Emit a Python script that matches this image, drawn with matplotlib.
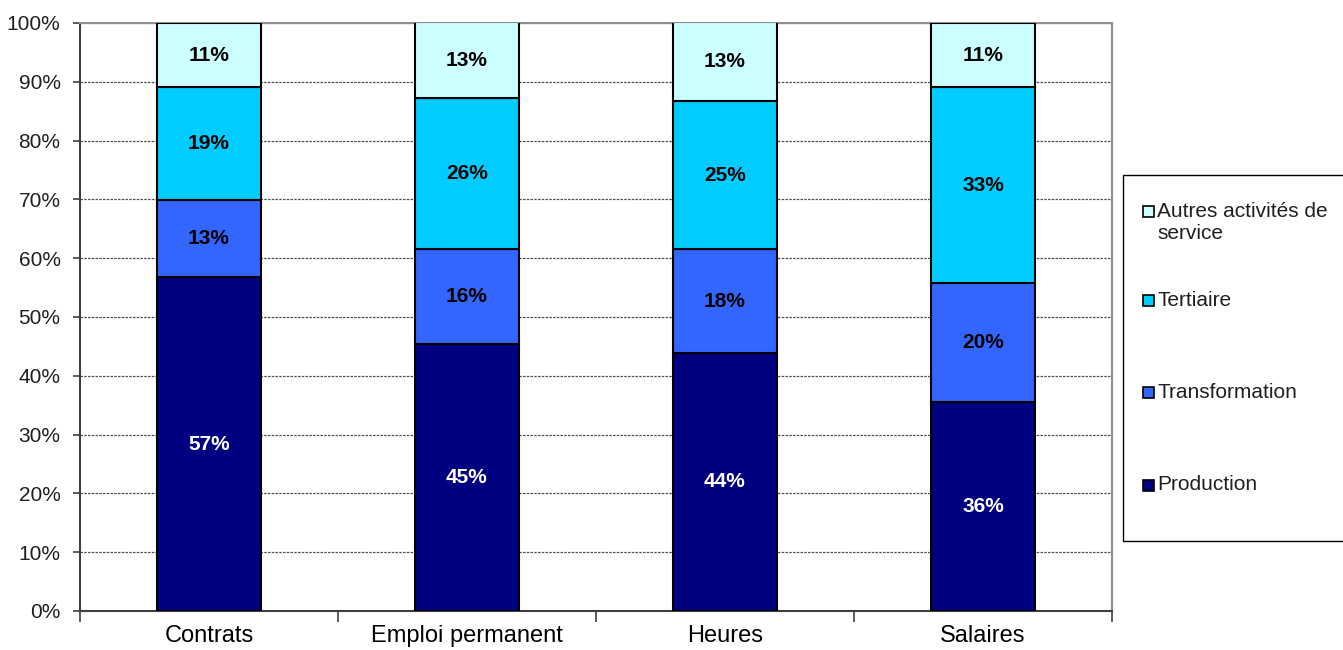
import matplotlib.pyplot as plt
from matplotlib.patches import Rectangle

plt.rcParams['font.family'] = ['Liberation Sans', 'DejaVu Sans']

# Data (percent share of each sector)
categories = ['Contrats', 'Emploi permanent', 'Heures', 'Salaires']
series_names = ['Production', 'Transformation', 'Tertiaire', 'Autres activités de\nservice']
production = [56.8, 45.4, 43.9, 35.6]
transformation = [13.1, 16.2, 17.6, 20.1]
tertiaire = [19.2, 25.6, 25.2, 33.4]
autres = [10.9, 12.9, 13.4, 10.9]
yticks = [0, 10, 20, 30, 40, 50, 60, 70, 80, 90, 100]

colors = ['#000080', '#3366FF', '#00CCFF', '#CCFFFF']
text_colors = ['white', 'black', 'black', 'black']

W, H = 1343, 650
fig = plt.figure(figsize=(W / 100, H / 100), dpi=100)
ax = fig.add_axes([80 / W, 1 - 611 / H, (1112 - 80) / W, (611 - 23) / H])


def px(x, y):
    # pixel position -> figure fraction
    return x / W, 1 - y / H


series = [production, transformation, tertiaire, autres]
x = list(range(len(categories)))
bottom = [0] * len(categories)
for vals, col, tcol in zip(series, colors, text_colors):
    ax.bar(x, vals, width=0.4, bottom=bottom, color=col,
           edgecolor='black', linewidth=1.5, zorder=3)
    for xi, b, v in zip(x, bottom, vals):
        ax.text(xi, b + v / 2, f'{v:.0f}%', ha='center', va='center',
                color=tcol, fontsize=15, fontweight='bold', zorder=4)
    bottom = [b + v for b, v in zip(bottom, vals)]

ax.set_xlim(-0.5, len(categories) - 0.5)
ax.set_ylim(0, 100)
ax.set_yticks(yticks)
ax.set_yticklabels([f'{t}%' for t in yticks], fontsize=15, color='#202020')
ax.set_xticks(x)
ax.set_xticklabels(categories, fontsize=17)
ax.tick_params(axis='x', length=0, pad=10)
ax.set_xticks([i - 0.5 for i in range(len(categories) + 1)], minor=True)
ax.tick_params(axis='x', which='minor', length=8, width=1.2, color='#404040')
ax.tick_params(axis='y', length=5, width=1.2, color='#404040', pad=9)

ax.grid(axis='y', color='#505050', linestyle=(0, (2, 1)), linewidth=0.9, zorder=1)
for side in ['left', 'bottom']:
    ax.spines[side].set_color('#404040')
    ax.spines[side].set_linewidth(1.5)
for side in ['top', 'right']:
    ax.spines[side].set_color('#909090')
    ax.spines[side].set_linewidth(1.5)

# Legend box drawn by hand to match the spacing
x0, y0 = px(1123, 541)
x1, y1 = px(1345, 175)
fig.patches.append(Rectangle((x0, y0), x1 - x0, y1 - y0, transform=fig.transFigure,
                             facecolor='white', edgecolor='black', linewidth=1.0))
legend_y = [211, 300, 392, 485]
for name, col, ly in zip(reversed(series_names), reversed(colors), legend_y):
    mx, my = px(1143, ly + 6)
    fig.patches.append(Rectangle((mx, my), 11 / W, 11 / H, transform=fig.transFigure,
                                 facecolor=col, edgecolor='black', linewidth=1.2))
    if '\n' in name:
        tx, ty = px(1157, ly - 9)
        fig.text(tx, ty, name, ha='left', va='top', fontsize=15,
                 color='#202020', linespacing=1.2)
    else:
        tx, ty = px(1157, ly)
        fig.text(tx, ty, name, ha='left', va='center', fontsize=15, color='#202020')

fig.savefig('out.png', dpi=100)
